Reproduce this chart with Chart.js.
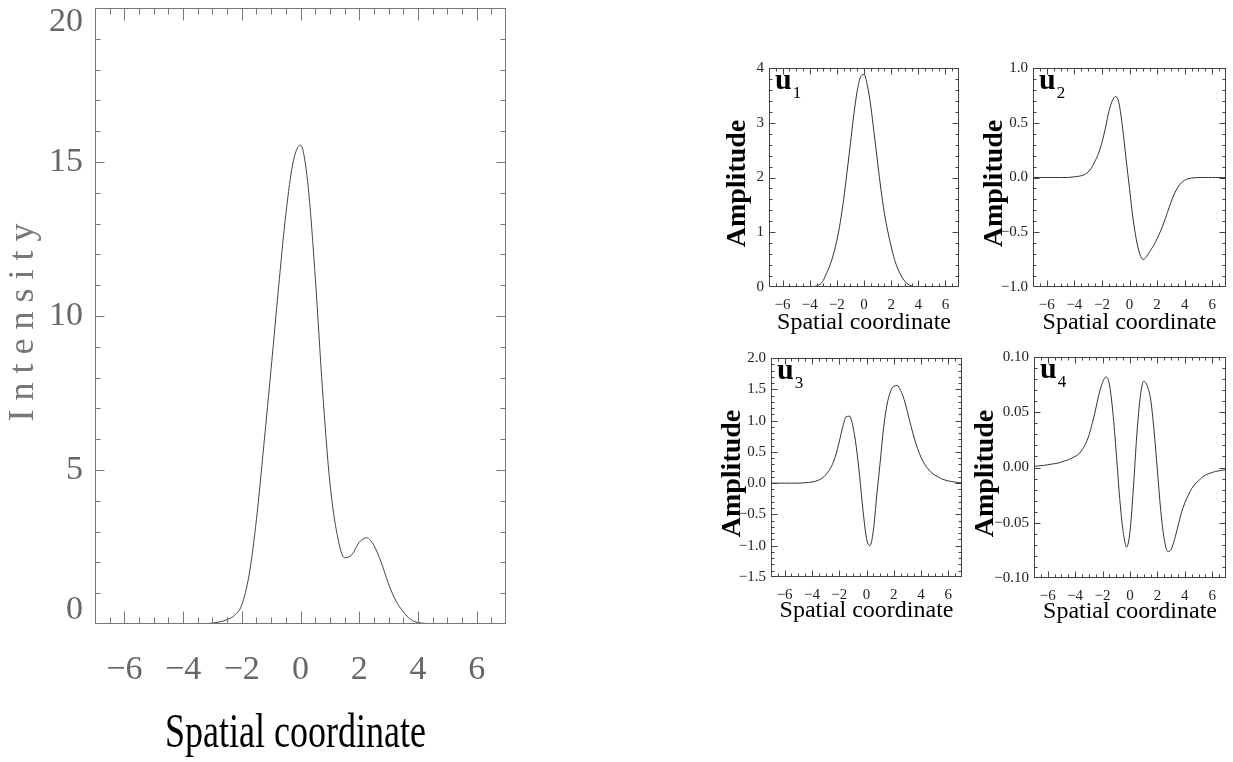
<!DOCTYPE html>
<html>
<head>
<meta charset="utf-8">
<script src="https://cdn.jsdelivr.net/npm/chart.js@4.4.0/dist/chart.umd.min.js"></script>
<style>
  body { margin: 0; background: #fff; }
  #wrap { position: relative; width: 1233px; height: 762px; overflow: hidden; }
  canvas { position: absolute; }
</style>
</head>
<body>
<div id="wrap">
  <canvas id="main" width="680" height="798" style="left:0px;top:-36px"></canvas>
  <canvas id="c1" width="260" height="300" style="left:710px;top:50px"></canvas>
  <canvas id="c2" width="263" height="300" style="left:970px;top:50px"></canvas>
  <canvas id="c3" width="260" height="300" style="left:710px;top:340px"></canvas>
  <canvas id="c4" width="263" height="300" style="left:970px;top:340px"></canvas>
</div>
<script>
// spatial coordinate grid shared by every panel
const xGrid = [-7, -6.75, -6.5, -6.25, -6, -5.75, -5.5, -5.25, -5, -4.75, -4.5, -4.25, -4, -3.75, -3.5, -3.25,
  -3, -2.75, -2.5, -2.25, -2, -1.75, -1.5, -1.25, -1, -0.75, -0.5, -0.25, 0, 0.25, 0.5, 0.75, 1, 1.25, 1.5, 1.75,
  2, 2.25, 2.5, 2.75, 3, 3.25, 3.5, 3.75, 4, 4.25, 4.5, 4.75, 5, 5.25, 5.5, 5.75, 6, 6.25, 6.5, 6.75, 7];

// labelled x ticks (same on all panels)
const xTickValues = [-6, -4, -2, 0, 2, 4, 6];

const intensity = [0, 0, 0, 0, 0, 0, 0, 0, 0, 0, 0, 0, 0, 0, 0.005, 0.01,
  0.03, 0.07, 0.14, 0.28, 0.62, 1.6, 3.4, 5.8, 8.3, 10.9, 13.3, 15.0, 15.55, 14.3, 11.3, 7.6, 4.6, 2.9, 2.15, 2.25,
  2.65, 2.8, 2.55, 2.0, 1.3, 0.75, 0.4, 0.15, 0.05, 0.02, 0.005, 0, 0, 0, 0, 0, 0, 0, 0, 0, 0];

const u1 = [0, 0, 0, 0, 0, 0, 0, 0, 0, 0, 0, 0, 0, 0.005, 0.02, 0.05,
  0.12, 0.26, 0.4, 0.6, 0.85, 1.18, 1.6, 2.1, 2.62, 3.15, 3.58, 3.84, 3.88, 3.68, 3.3, 2.8, 2.28, 1.78, 1.35, 1.02,
  0.74, 0.5, 0.33, 0.2, 0.11, 0.05, 0.02, 0.005, 0, 0, 0, 0, 0, 0, 0, 0, 0, 0, 0, 0, 0];

const u2 = [0, 0, 0, 0, 0, 0, 0, 0, 0, 0, 0, 0.003, 0.006, 0.01, 0.016, 0.027,
  0.05, 0.09, 0.15, 0.22, 0.32, 0.45, 0.6, 0.7, 0.74, 0.67, 0.45, 0.17, -0.1, -0.37, -0.57, -0.7, -0.75, -0.72, -0.67, -0.62,
  -0.56, -0.49, -0.41, -0.32, -0.23, -0.15, -0.09, -0.05, -0.025, -0.012, -0.005, -0.002, 0, 0, 0, 0, 0, 0, 0, 0, 0];

const u3 = [0, 0, 0, 0, 0, 0, 0, 0, 0, 0.003, 0.006, 0.01, 0.018, 0.03, 0.05, 0.08,
  0.13, 0.2, 0.3, 0.45, 0.66, 0.89, 1.06, 1.07, 0.91, 0.58, 0.1, -0.45, -0.88, -1.0, -0.76, -0.2, 0.33, 0.88, 1.25, 1.46,
  1.55, 1.56, 1.48, 1.34, 1.14, 0.92, 0.72, 0.55, 0.41, 0.31, 0.23, 0.17, 0.13, 0.1, 0.07, 0.05, 0.035, 0.025, 0.016, 0.01, 0.006];

const u4 = [0.001, 0.0013, 0.0016, 0.002, 0.0025, 0.003, 0.0035, 0.004, 0.005, 0.006, 0.007, 0.0085, 0.01, 0.012, 0.016, 0.021,
  0.029, 0.04, 0.053, 0.067, 0.077, 0.082, 0.075, 0.05, 0.013, -0.028, -0.058, -0.072, -0.058, -0.018, 0.03, 0.064, 0.078, 0.074, 0.062, 0.034,
  -0.003, -0.04, -0.065, -0.076, -0.074, -0.065, -0.053, -0.041, -0.032, -0.025, -0.019, -0.015, -0.012, -0.009, -0.007, -0.0055, -0.0045, -0.0035, -0.003, -0.0025, -0.002];

const SERIF = '"Liberation Serif", "Times New Roman", serif';

function toPoints(ys) {
  return xGrid.map((x, i) => ({ x: x, y: ys[i] }));
}

function fmt(v, digits) {
  if (Math.abs(v) < 1e-9) return (0).toFixed(digits);
  return (v < 0 ? '\u2212' : '') + Math.abs(v).toFixed(digits);
}

function isMajor(v, step) {
  const r = v / step;
  return Math.abs(r - Math.round(r)) < 1e-6;
}

// box round the plot, inward ticks on all four sides, axis titles and the u_n tag
const frameTicks = {
  id: 'frameTicks',
  afterDatasetsDraw(chart, args, o) {
    const { ctx, chartArea: a } = chart;
    const xs = chart.scales.x, ys = chart.scales.y;
    ctx.save();
    ctx.strokeStyle = o.color;
    ctx.lineWidth = 1;
    const L = Math.round(a.left) + 0.5, R = Math.round(a.right) - 0.5;
    const T = Math.round(a.top) + 0.5, B = Math.round(a.bottom) - 0.5;
    ctx.strokeRect(L, T, R - L, B - T);
    ctx.beginPath();
    const nx = Math.round((xs.max - xs.min) / o.xMinor);
    for (let i = 1; i < nx; i++) {
      const v = xs.min + i * o.xMinor;
      const px = Math.round(xs.getPixelForValue(v)) + 0.5;
      const len = isMajor(v, o.xMajor) ? o.xMajorLen : o.xMinorLen;
      ctx.moveTo(px, B); ctx.lineTo(px, B - len);
      ctx.moveTo(px, T); ctx.lineTo(px, T + len);
    }
    const ny = Math.round((ys.max - ys.min) / o.yMinor);
    for (let i = 1; i < ny; i++) {
      const v = ys.min + i * o.yMinor;
      const py = Math.round(ys.getPixelForValue(v)) + 0.5;
      const len = isMajor(v, o.yMajor) ? o.yMajorLen : o.yMinorLen;
      ctx.moveTo(L, py); ctx.lineTo(L + len, py);
      ctx.moveTo(R, py); ctx.lineTo(R - len, py);
    }
    ctx.stroke();

    if (o.xTitle) {
      const t = o.xTitle;
      ctx.save();
      ctx.translate((a.left + a.right) / 2 + (t.dx || 0), a.bottom + t.dy);
      ctx.scale(t.squeeze || 1, 1);
      ctx.font = t.font;
      ctx.fillStyle = t.color;
      ctx.textAlign = 'center';
      ctx.textBaseline = 'alphabetic';
      ctx.fillText(t.text, 0, 0);
      ctx.restore();
    }
    if (o.yTitle) {
      const t = o.yTitle;
      ctx.save();
      ctx.translate(a.left - t.dx, (a.top + a.bottom) / 2 + (t.dy || 0));
      ctx.rotate(-Math.PI / 2);
      ctx.font = t.font;
      ctx.fillStyle = t.color;
      if (t.spacing) ctx.letterSpacing = t.spacing + 'px';
      ctx.textAlign = 'center';
      ctx.textBaseline = 'alphabetic';
      ctx.fillText(t.text, 0, 0);
      ctx.restore();
    }
    if (o.tag) {
      ctx.fillStyle = '#000';
      ctx.textAlign = 'left';
      ctx.textBaseline = 'alphabetic';
      ctx.font = 'bold 30px ' + SERIF;
      ctx.fillText('u', a.left + 6, a.top + 21);
      const w = ctx.measureText('u').width;
      ctx.font = '17px ' + SERIF;
      ctx.fillText(o.tag, a.left + 7 + w, a.top + 30);
    }
    ctx.restore();
  }
};

function makeChart(id, cfg) {
  return new Chart(document.getElementById(id), {
    type: 'line',
    data: {
      datasets: [{
        data: toPoints(cfg.values),
        borderColor: cfg.lineColor,
        borderWidth: 1,
        pointRadius: 0,
        fill: false,
        cubicInterpolationMode: 'monotone'
      }]
    },
    options: {
      responsive: false,
      animation: false,
      events: [],
      layout: { padding: cfg.pad },
      plugins: {
        legend: { display: false },
        tooltip: { enabled: false },
        frameTicks: cfg.frame
      },
      scales: {
        x: {
          type: 'linear', min: -7, max: 7,
          grid: { display: false, drawTicks: false },
          border: { display: false },
          ticks: {
            autoSkip: false, maxRotation: 0,
            padding: cfg.xPad, color: cfg.tickColor, font: cfg.tickFont,
            callback: v => fmt(v, 0)
          },
          afterBuildTicks: s => { s.ticks = xTickValues.map(v => ({ value: v })); },
          afterFit: s => { s.height = cfg.xHeight; }
        },
        y: {
          type: 'linear', min: cfg.yMin, max: cfg.yMax,
          grid: { display: false, drawTicks: false },
          border: { display: false },
          ticks: {
            stepSize: cfg.yStep, autoSkip: false,
            padding: cfg.yPad, color: cfg.tickColor, font: cfg.yFont || cfg.tickFont,
            callback: cfg.yLabel
          },
          afterFit: s => { s.width = cfg.yWidth; }
        }
      }
    },
    plugins: [frameTicks]
  });
}

// big intensity panel
makeChart('main', {
  values: intensity, lineColor: '#444',
  pad: { left: 0, right: 174, top: 44, bottom: 0 },
  yWidth: 95, xHeight: 138,
  yMin: 0, yMax: 20, yStep: 5,
  tickColor: '#666', xPad: 26, yPad: 12,
  tickFont: { family: SERIF, size: 34 },
  yFont: c => ({ family: SERIF, size: 34,
    lineHeight: (c.tick && (c.tick.value === 0 || c.tick.value === 20)) ? 0.8 : 1.2 }),
  yLabel: v => v === 20 ? ['', '20'] : v === 0 ? ['0', ''] : String(v),
  frame: {
    color: '#777', xMinor: 0.5, xMajor: 2, yMinor: 1, yMajor: 5,
    xMajorLen: 12, xMinorLen: 6, yMajorLen: 9, yMinorLen: 5,
    xTitle: { text: 'Spatial coordinate', font: '48px ' + SERIF, color: '#000', dy: 123, dx: -5, squeeze: 0.75 },
    yTitle: { text: 'Intensity', font: '36px ' + SERIF, color: '#777', dx: 62, dy: 2, spacing: 9 }
  }
});

function small(id, values, yMin, yMax, yStep, digits, yMinor, pad, xHeight, yWidth, tag, ampDx, titleDy) {
  makeChart(id, {
    values: values, lineColor: '#333',
    pad: pad, yWidth: yWidth, xHeight: xHeight,
    yMin: yMin, yMax: yMax, yStep: yStep,
    tickColor: '#222', xPad: 9, yPad: 5,
    tickFont: { family: SERIF, size: 15 },
    yLabel: v => fmt(v, digits),
    frame: {
      color: '#444', xMinor: 0.5, xMajor: 2, yMinor: yMinor, yMajor: yStep,
      xMajorLen: 6, xMinorLen: 3, yMajorLen: 6, yMinorLen: 3,
      xTitle: { text: 'Spatial coordinate', font: '24px ' + SERIF, color: '#000', dy: titleDy },
      yTitle: { text: 'Amplitude', font: 'bold 28px ' + SERIF, color: '#000', dx: ampDx, dy: 6 },
      tag: tag
    }
  });
}

small('c1', u1, 0, 4, 1, 0, 0.2, { left: 0, right: 11, top: 18, bottom: 0 }, 63, 59, '1', 24, 42);
small('c2', u2, -1, 1, 0.5, 1, 0.1, { left: 0, right: 7, top: 18, bottom: 0 }, 63, 63, '2', 31, 42);
small('c3', u3, -1.5, 2, 0.5, 1, 0.1, { left: 0, right: 8, top: 18, bottom: 0 }, 63, 61, '3', 31, 40);
small('c4', u4, -0.1, 0.1, 0.05, 2, 0.01, { left: 0, right: 7, top: 17, bottom: 0 }, 62, 64, '4', 41, 40);
</script>
</body>
</html>
